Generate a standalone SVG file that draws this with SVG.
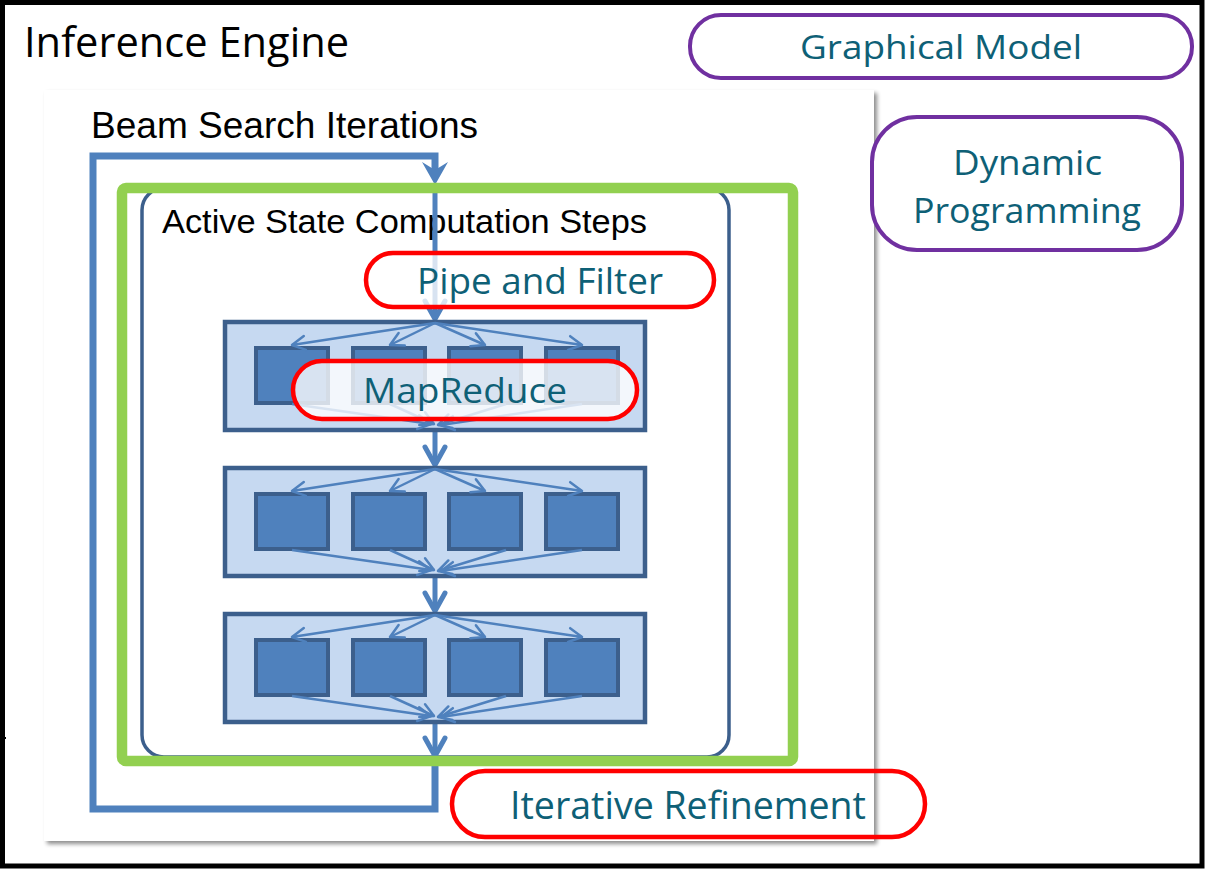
<svg xmlns="http://www.w3.org/2000/svg" width="1205" height="869" viewBox="0 0 1205 869">
<style>
.lbl{font-family:"Open Sans","Noto Sans",sans-serif;fill:#0E6076}
.blk{font-family:"Liberation Sans",Arial,sans-serif;fill:#000}
.pillR{fill:#fff;fill-opacity:0.78;stroke:#FF0000;stroke-width:4.5}
.pillP{fill:#fff;stroke:#7030A0;stroke-width:4}
.stage{fill:#C6D9F1;stroke:#3C5F8C;stroke-width:4.5}
.sq{fill:#4F81BD;stroke:#3C5F8C;stroke-width:4}
.thin{stroke:#4F81BD;stroke-width:2.5;fill:none;marker-end:url(#vThin)}
.thick{stroke:#4F81BD;stroke-width:5;fill:none;marker-end:url(#vThick)}
</style>
<defs>
<filter id="shadow" x="-5%" y="-5%" width="112%" height="112%">
<feGaussianBlur in="SourceAlpha" stdDeviation="2"/>
<feOffset dx="3" dy="3" result="b"/>
<feComponentTransfer><feFuncA type="linear" slope="0.45"/></feComponentTransfer>
<feMerge><feMergeNode/><feMergeNode in="SourceGraphic"/></feMerge>
</filter>
<marker id="vThin" markerUnits="userSpaceOnUse" viewBox="-20 -20 40 40" markerWidth="40" markerHeight="40" refX="0" refY="0" orient="auto" overflow="visible">
<path d="M-13,-7 L0,0 L-13,7" fill="none" stroke="#4F81BD" stroke-width="2.5" stroke-linejoin="round" stroke-linecap="round"/>
</marker>
<marker id="vThick" markerUnits="userSpaceOnUse" viewBox="-25 -25 50 50" markerWidth="50" markerHeight="50" refX="0" refY="0" orient="auto" overflow="visible">
<path d="M-18,-10 L0,0 L-18,10" fill="none" stroke="#4F81BD" stroke-width="5" stroke-linejoin="round" stroke-linecap="round"/>
</marker>
</defs>

<rect x="0" y="0" width="1205" height="869" fill="#fff"/>

<g id="inference-engine">
<rect x="2.5" y="2.5" width="1199.5" height="863.5" fill="#fff" stroke="#000" stroke-width="5"/>
<line x1="0" y1="738" x2="6" y2="738" stroke="#000" stroke-width="2"/>
<text class="lbl" x="24" y="57" font-size="42" textLength="325" lengthAdjust="spacingAndGlyphs" style="fill:#000">Inference Engine</text>
</g>

<g id="beam-search">
<rect x="44" y="90" width="830" height="751" fill="#fff" filter="url(#shadow)"/>
<text class="blk" x="91" y="138" font-size="37" textLength="387" lengthAdjust="spacingAndGlyphs">Beam Search Iterations</text>
</g>

<g id="connectors-loop">
<path d="M435,761 L435,809 L93,809 L93,156 L435,156 L435,170" fill="none" stroke="#4F81BD" stroke-width="7" stroke-linejoin="miter"/>
<path d="M435,185 L422,162 L435,170 L448,162 Z" fill="#4F81BD"/>
</g>

<g id="active-state">
<rect x="142" y="188" width="587" height="569" rx="22" fill="#fff" stroke="#3C5F8C" stroke-width="3.5"/>
<text class="blk" x="162" y="233" font-size="34" textLength="485" lengthAdjust="spacingAndGlyphs">Active State Computation Steps</text>
</g>

<g id="connectors">
<line class="thick" x1="435" y1="192" x2="435" y2="319"/>
<line class="thick" x1="435" y1="432" x2="435" y2="465"/>
<line class="thick" x1="435" y1="578" x2="435" y2="611"/>
<line class="thick" x1="435" y1="724" x2="435" y2="756"/>
</g>

<g id="stage1" transform="translate(0,322)">
<rect class="stage" x="225" y="0" width="420" height="108"/>
<rect class="sq" x="256" y="26" width="72" height="55"/>
<rect class="sq" x="353" y="26" width="72" height="55"/>
<rect class="sq" x="449" y="26" width="72" height="55"/>
<rect class="sq" x="546" y="26" width="72" height="55"/>
<line class="thin" x1="435" y1="1" x2="292" y2="23"/>
<line class="thin" x1="435" y1="1" x2="390" y2="23"/>
<line class="thin" x1="435" y1="1" x2="485" y2="23"/>
<line class="thin" x1="435" y1="1" x2="582" y2="23"/>
<line class="thin" x1="292" y1="82" x2="431" y2="102"/>
<line class="thin" x1="390" y1="82" x2="434" y2="102"/>
<line class="thin" x1="506" y1="82" x2="438" y2="103"/>
<line class="thin" x1="582" y1="82" x2="441" y2="103"/>
</g>

<g id="stage2" transform="translate(0,468)">
<rect class="stage" x="225" y="0" width="420" height="108"/>
<rect class="sq" x="256" y="26" width="72" height="55"/>
<rect class="sq" x="353" y="26" width="72" height="55"/>
<rect class="sq" x="449" y="26" width="72" height="55"/>
<rect class="sq" x="546" y="26" width="72" height="55"/>
<line class="thin" x1="435" y1="1" x2="292" y2="23"/>
<line class="thin" x1="435" y1="1" x2="390" y2="23"/>
<line class="thin" x1="435" y1="1" x2="485" y2="23"/>
<line class="thin" x1="435" y1="1" x2="582" y2="23"/>
<line class="thin" x1="292" y1="82" x2="431" y2="102"/>
<line class="thin" x1="390" y1="82" x2="434" y2="102"/>
<line class="thin" x1="506" y1="82" x2="438" y2="103"/>
<line class="thin" x1="582" y1="82" x2="441" y2="103"/>
</g>

<g id="stage3" transform="translate(0,614)">
<rect class="stage" x="225" y="0" width="420" height="108"/>
<rect class="sq" x="256" y="26" width="72" height="55"/>
<rect class="sq" x="353" y="26" width="72" height="55"/>
<rect class="sq" x="449" y="26" width="72" height="55"/>
<rect class="sq" x="546" y="26" width="72" height="55"/>
<line class="thin" x1="435" y1="1" x2="292" y2="23"/>
<line class="thin" x1="435" y1="1" x2="390" y2="23"/>
<line class="thin" x1="435" y1="1" x2="485" y2="23"/>
<line class="thin" x1="435" y1="1" x2="582" y2="23"/>
<line class="thin" x1="292" y1="82" x2="431" y2="102"/>
<line class="thin" x1="390" y1="82" x2="434" y2="102"/>
<line class="thin" x1="506" y1="82" x2="438" y2="103"/>
<line class="thin" x1="582" y1="82" x2="441" y2="103"/>
</g>

<g id="green-frame">
<rect x="122" y="188" width="671" height="573" rx="4" fill="none" stroke="#92D050" stroke-width="10.5"/>
</g>

<g id="pipe-and-filter">
<rect class="pillR" x="366" y="253" width="348" height="54" rx="27"/>
<text class="lbl" x="417" y="294" font-size="36" textLength="246" lengthAdjust="spacingAndGlyphs">Pipe and Filter</text>
</g>

<g id="mapreduce">
<rect class="pillR" x="293" y="361" width="344" height="58" rx="29"/>
<text class="lbl" x="363" y="403" font-size="35" textLength="204" lengthAdjust="spacingAndGlyphs">MapReduce</text>
</g>

<g id="iterative-refinement">
<rect x="452" y="771" width="473" height="66" rx="33" fill="none" stroke="#FF0000" stroke-width="4.5"/>
<text class="lbl" x="510" y="819" font-size="38" textLength="356" lengthAdjust="spacingAndGlyphs">Iterative Refinement</text>
</g>

<g id="graphical-model">
<rect class="pillP" x="690" y="15" width="502" height="63" rx="31"/>
<text class="lbl" x="800" y="59" font-size="33" textLength="282" lengthAdjust="spacingAndGlyphs">Graphical Model</text>
</g>

<g id="dynamic-programming">
<rect class="pillP" x="872" y="117" width="310" height="133" rx="45"/>
<text class="lbl" x="953" y="175" font-size="35" textLength="149" lengthAdjust="spacingAndGlyphs">Dynamic</text>
<text class="lbl" x="913" y="223" font-size="35" textLength="228" lengthAdjust="spacingAndGlyphs">Programming</text>
</g>
</svg>
